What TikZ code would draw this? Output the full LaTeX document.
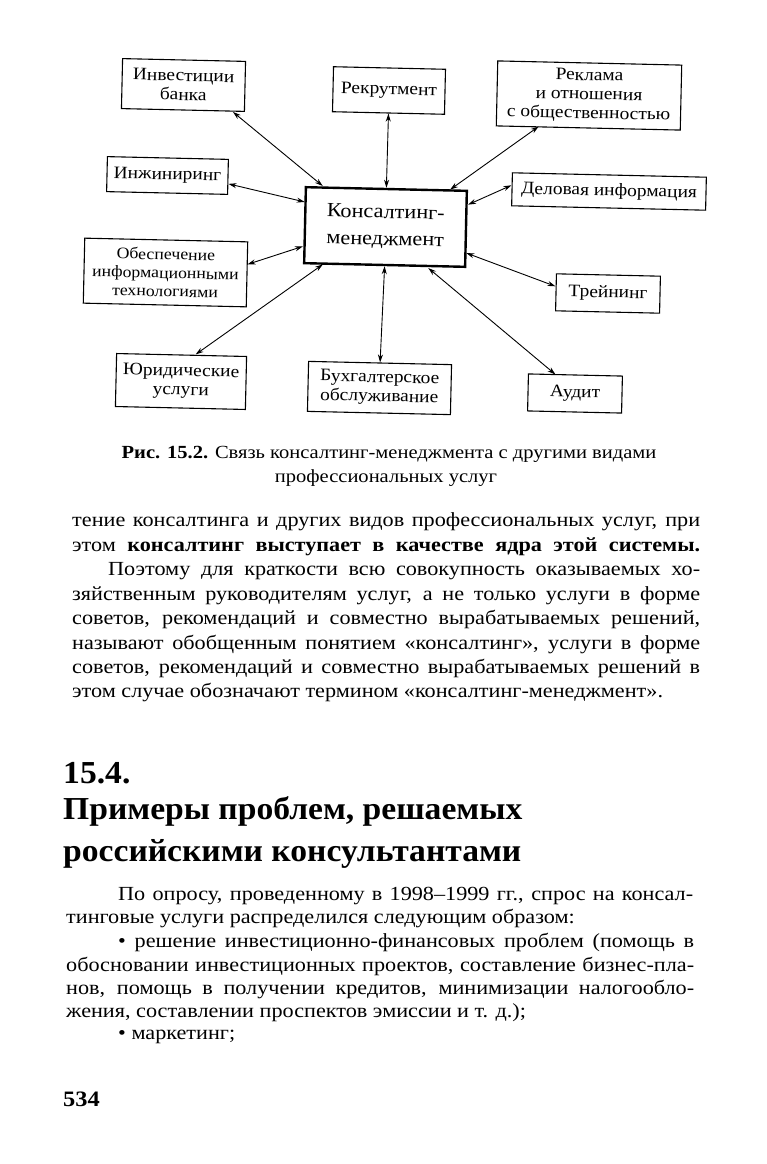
\documentclass[tikz,border=0pt]{standalone}
\usepackage{fontspec}
\setmainfont{Liberation Serif}[FakeStretch=1.11]
\newfontfamily\headfont{Liberation Serif}[FakeStretch=1.05]
\usetikzlibrary{arrows.meta}
\newcommand\bodyline[5]{\node[txt] (#1) at (#2,#3) {\makebox[#4][s]{#5}};}
\newcommand\freeline[4]{\node[txt] (#1) at (#2,#3) {#4};}
\begin{document}
\begin{tikzpicture}[x=1pt,y=-1pt,
  box/.style={draw, line width=1.1pt, align=center, inner sep=0pt,
    font=\fontsize{17.5}{19}\selectfont, rotate=-1.3},
  core/.style={box, line width=2.4pt, font=\fontsize{20}{27}\selectfont},
  link/.style={{Stealth[length=8pt,width=5pt]}-{Stealth[length=8pt,width=5pt]}, line width=0.9pt},
  txt/.style={anchor=base west, inner sep=0pt, font=\fontsize{20}{24}\selectfont},
  captxt/.style={inner sep=0pt, anchor=base, font=\fontsize{18.5}{20}\selectfont},
  head/.style={anchor=base west, inner sep=0pt, font=\fontsize{32}{36}\selectfont\headfont\bfseries}
]
\useasboundingbox (0,0) rectangle (766,1164);
\fill[white] (0,0) rectangle (766,1164);

% boxes
\node[box, minimum width=123pt, minimum height=50pt] (inv) at (183.5,85) {Инвестиции\\банка};
\node[box, minimum width=112pt, minimum height=45pt] (rec) at (389,90.5) {Рекрутмент};
\node[box, minimum width=184pt, minimum height=65pt] (rek) at (589,95.5) {Реклама\\и отношения\\с общественностью};
\node[box, minimum width=121pt, minimum height=35pt] (inzh) at (167.5,175.5) {Инжиниринг};
\node[box, minimum width=194pt, minimum height=33pt] (del) at (609,191.5) {Деловая информация};
\node[core, minimum width=161pt, minimum height=76pt] (c) at (385.5,227) {Консалтинг-\\менеджмент};
\node[box, minimum width=163pt, minimum height=65pt, font=\fontsize{16}{18.5}\selectfont] (ob) at (165.5,272.5) {Обеспечение\\информационными\\технологиями};
\node[box, minimum width=104pt, minimum height=37pt] (tr) at (608,293.5) {Трейнинг};
\node[box, minimum width=130pt, minimum height=53pt] (yur) at (181,381.5) {Юридические\\услуги};
\node[box, minimum width=143pt, minimum height=50pt] (buh) at (379.5,388) {Бухгалтерское\\обслуживание};
\node[box, minimum width=94pt, minimum height=37pt] (aud) at (575,393.5) {Аудит};

% connectors
\draw[link] ([xshift=-12pt]inv.south east) -- ([xshift=18pt]c.north west);
\draw[link] (rec.south) -- (c.north);
\draw[link] ([xshift=43pt]rek.south west) -- ([xshift=-18pt]c.north east);
\draw[link] ([yshift=-7pt]inzh.east) -- ([yshift=-16pt]c.north west);
\draw[link] ([yshift=4pt]del.west) -- ([yshift=-15pt]c.north east);
\draw[link] ([yshift=10pt]ob.east) -- ([yshift=18pt]c.south west);
\draw[link] ([yshift=6pt]tr.west) -- ([yshift=15pt]c.south east);
\draw[link] ([xshift=14pt]yur.north) -- ([xshift=20pt]c.south west);
\draw[link] (buh.north) -- (c.south);
\draw[link] ([xshift=-20pt]aud.north) -- ([xshift=-38pt]c.south east);

% caption
\node[captxt] (cap1) at (389,458) {\textbf{Рис. 15.2.} Связь консалтинг-менеджмента с другими видами};
\node[captxt] (cap2) at (386,482) {профессиональных услуг};

% body text, upper
\bodyline{b1}{72}{526}{628pt}{тение консалтинга и других видов профессиональных услуг, при}
\bodyline{b2}{72}{551}{628pt}{этом \textbf{консалтинг выступает в качестве ядра этой системы.}}
\bodyline{b3}{108}{575}{592pt}{Поэтому для краткости всю совокупность оказываемых хо-}
\bodyline{b4}{72}{600}{628pt}{зяйственным руководителям услуг, а не только услуги в форме}
\bodyline{b5}{72}{624}{628pt}{советов, рекомендаций и совместно вырабатываемых решений,}
\bodyline{b6}{72}{649}{628pt}{называют обобщенным понятием «консалтинг», услуги в форме}
\bodyline{b7}{72}{673}{628pt}{советов, рекомендаций и совместно вырабатываемых решений в}
\freeline{b8}{72}{697}{этом случае обозначают термином «консалтинг-менеджмент».}

% heading
\node[head] (h0) at (63,783) {15.4.};
\node[head] (h1) at (63,819) {Примеры проблем, решаемых};
\node[head] (h2) at (63,861) {российскими консультантами};

% body text, lower
\bodyline{p1}{118}{900}{575pt}{По опросу, проведенному в 1998–1999 гг., спрос на консал-}
\freeline{p2}{66}{923}{тинговые услуги распределился следующим образом:}
\bodyline{p3}{118}{947}{576pt}{• решение инвестиционно-финансовых проблем (помощь в}
\bodyline{p4}{66}{971}{628pt}{обосновании инвестиционных проектов, составление бизнес-пла-}
\bodyline{p5}{66}{994}{628pt}{нов, помощь в получении кредитов, минимизации налогообло-}
\freeline{p6}{66}{1017}{жения, составлении проспектов эмиссии и т. д.);}
\freeline{p7}{118}{1039}{• маркетинг;}

\node[txt, font=\fontsize{22}{24}\selectfont\bfseries] (pg) at (63,1106) {534};
\end{tikzpicture}
\end{document}
